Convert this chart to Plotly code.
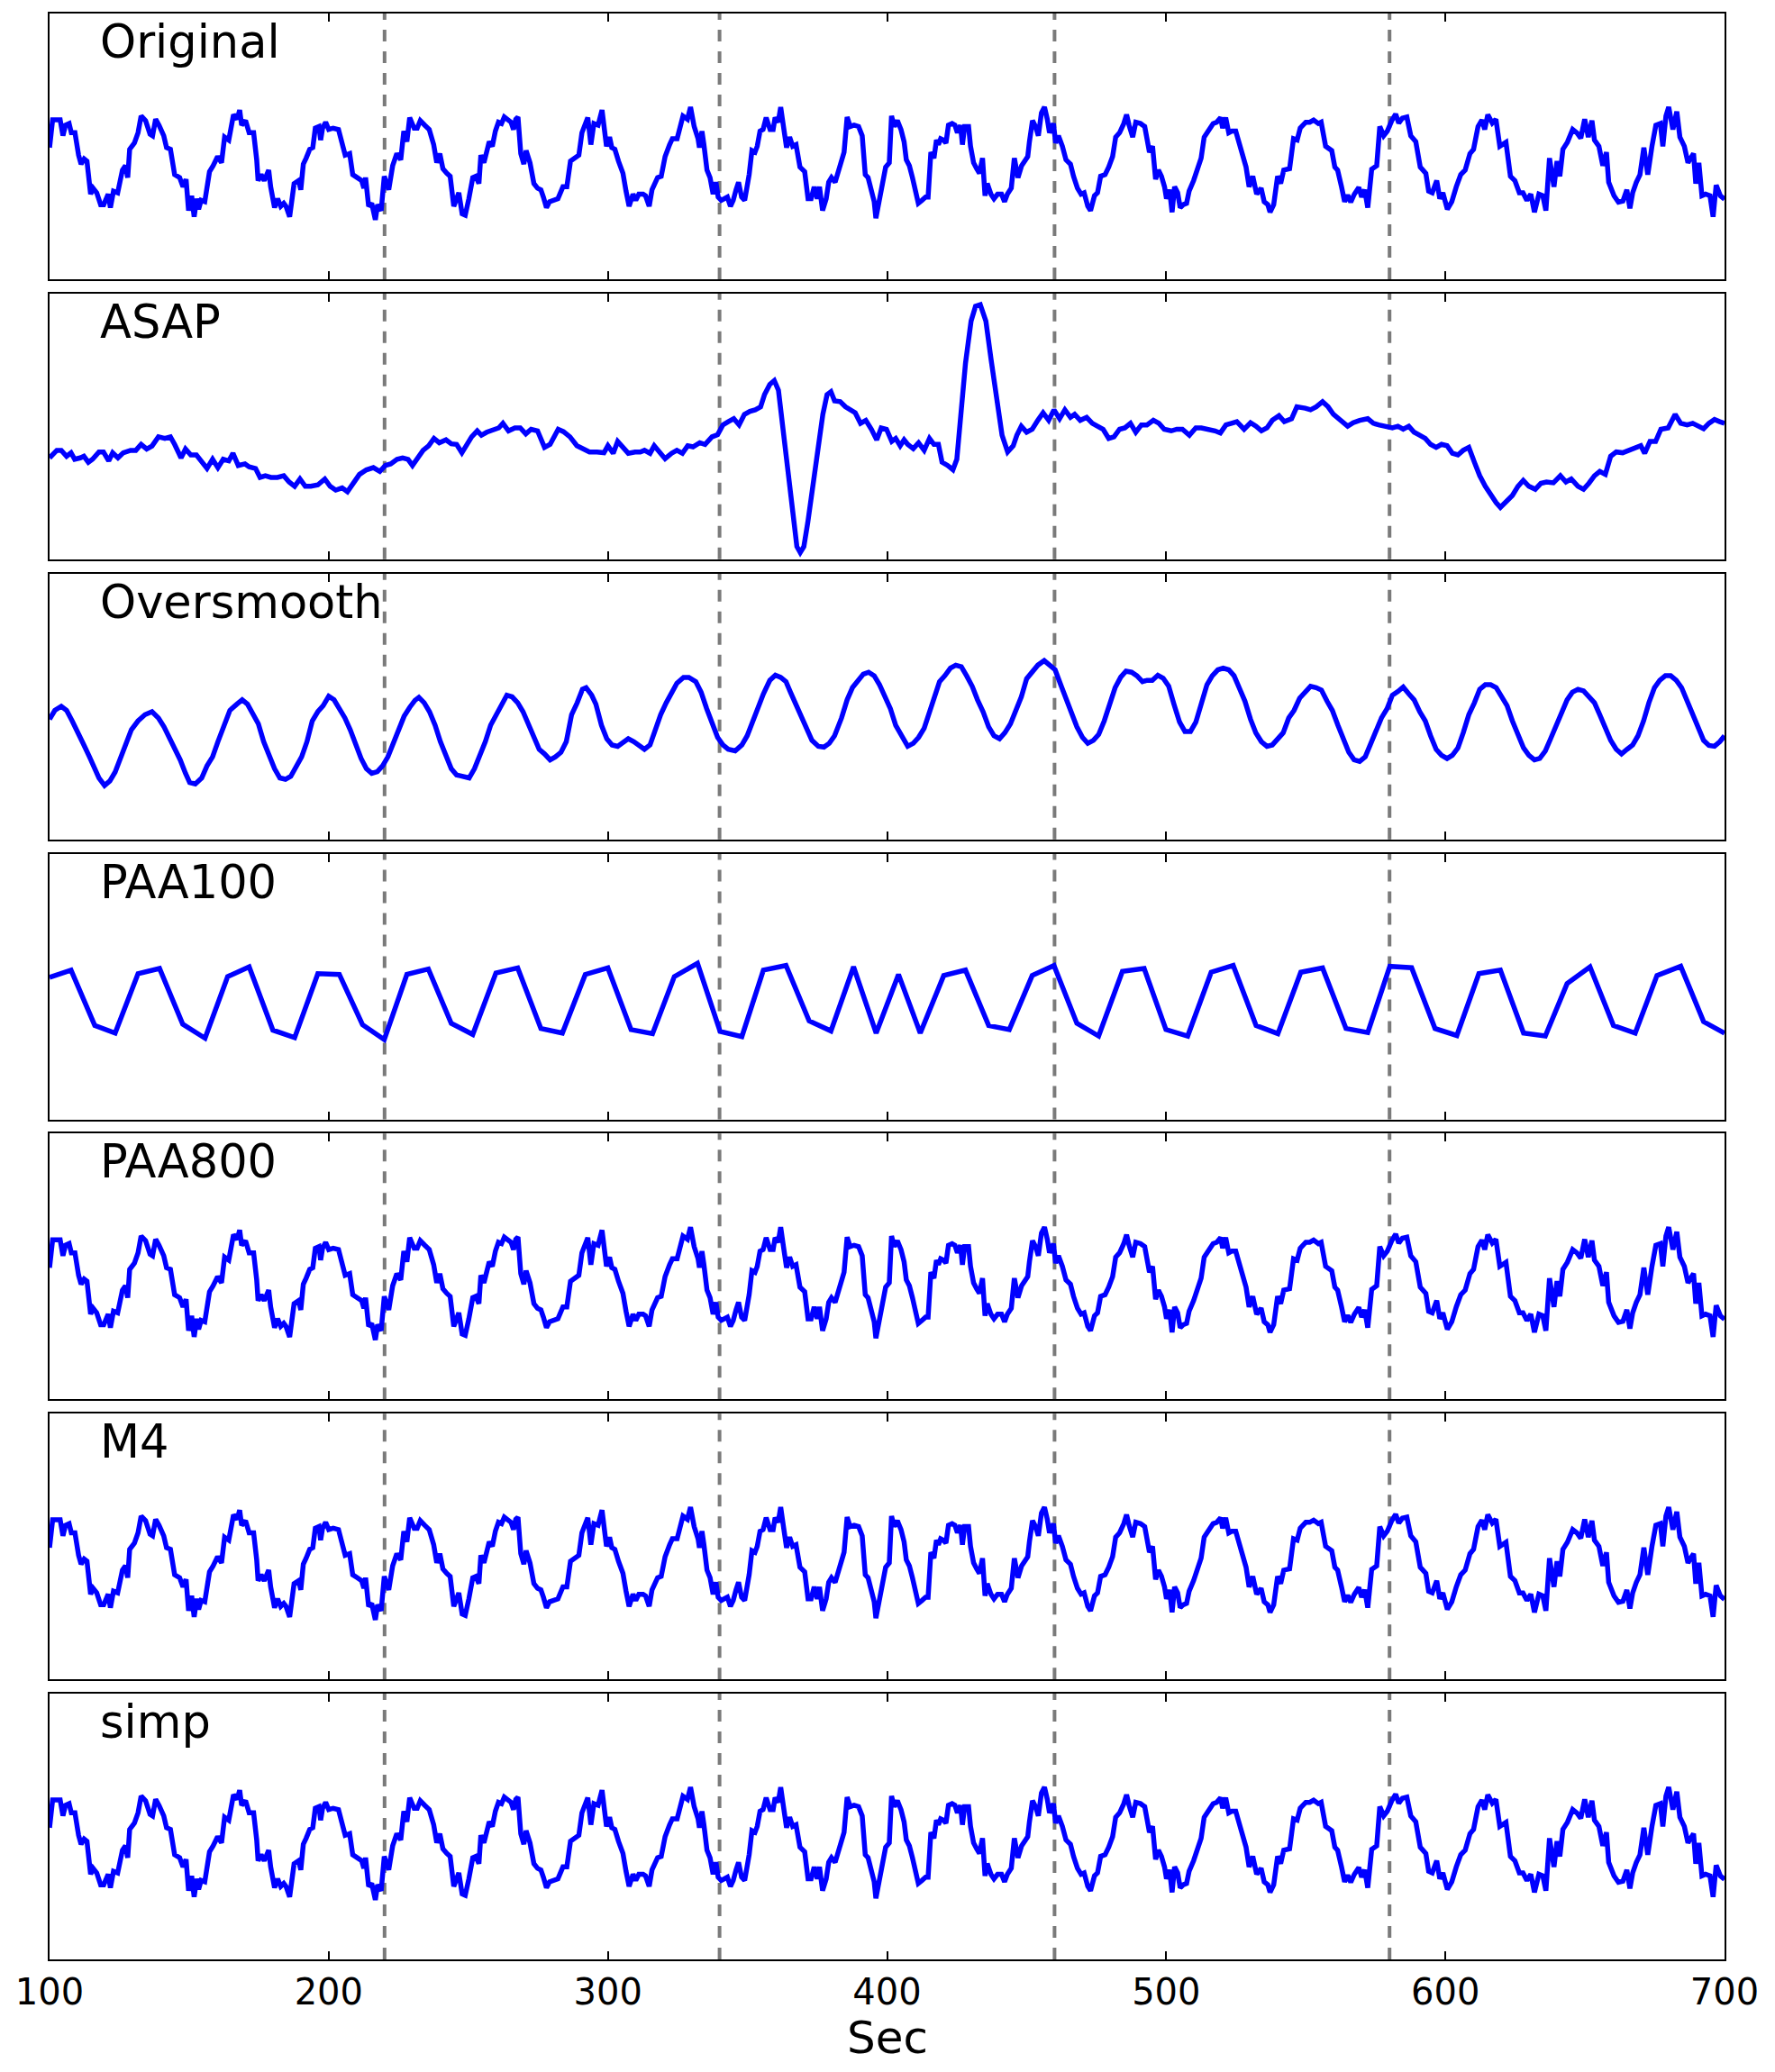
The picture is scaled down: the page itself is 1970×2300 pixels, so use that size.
import plotly.graph_objects as go

# ---------------- data (time in seconds, value in relative amplitude units) ----------------
original_t = [100.0, 101.1, 103.8, 104.8, 105.7, 107.0, 107.8, 109.1, 110.4, 111.3, 112.4, 113.4, 114.7, 115.6, 116.9,
              118.3, 119.4, 121.0, 121.8, 122.9, 124.4, 125.3, 126.1, 127.2, 128.0, 128.7, 130.4, 131.7, 132.8, 134.4,
              136.0, 136.9, 138.0, 139.2, 140.9, 141.9, 143.3, 144.8, 146.6, 147.8, 148.9, 149.8, 150.9, 151.8, 152.7,
              153.4, 154.3, 155.6, 157.3, 158.6, 160.2, 161.6, 162.7, 164.2, 165.1, 165.9, 167.2, 168.1, 168.8, 170.2,
              171.5, 173.1, 174.2, 174.7, 175.8, 176.9, 178.5, 179.2, 180.6, 181.7, 182.8, 183.9, 184.7, 186.0, 187.6,
              189.2, 190.0, 190.9, 191.9, 193.2, 194.3, 195.2, 196.5, 197.1, 197.8, 198.9, 200.0, 201.6, 203.5, 204.8,
              205.9, 207.5, 208.6, 210.2, 211.8, 212.6, 213.2, 214.3, 215.4, 216.7, 217.5, 218.8, 219.9, 221.5, 222.9,
              224.4, 225.8, 226.9, 228.0, 229.0, 230.6, 231.7, 232.8, 234.4, 236.0, 237.6, 238.7, 239.8, 240.9, 242.3,
              243.5, 244.8, 246.6, 247.8, 248.9, 250.2, 251.6, 252.7,
              253.8, 254.5, 255.6, 256.7, 257.5, 258.6, 259.7, 260.8, 261.9, 262.9, 264.2, 265.3, 266.2, 267.0, 267.8,
              268.8, 269.9, 270.7, 272.1, 273.5, 274.8, 276.0, 276.9, 278.0, 279.1, 280.7, 282.1, 283.9, 285.3, 286.6,
              288.2, 289.6, 290.7, 292.0, 292.8, 293.9, 295.0, 296.5, 297.9, 299.5, 300.6, 301.4, 302.5, 303.8, 305.4,
              306.5, 307.6, 309.0, 310.0, 311.1, 312.6, 313.5, 314.8, 315.8, 317.8, 319.1, 320.5, 322.1, 323.1, 324.8,
              325.8, 326.9, 328.5, 329.6, 330.9, 332.3, 332.8, 333.7, 334.4, 335.5, 336.6, 337.7, 338.7, 339.5, 340.6,
              342.0, 342.8, 343.9, 344.9, 345.9, 346.8, 347.9, 349.0, 350.6, 351.6, 352.7, 353.5, 354.5, 355.6, 356.7,
              358.1, 359.2, 359.9, 361.0, 361.9, 362.9, 364.0, 365.1, 366.2, 367.4, 368.8, 370.5, 371.7, 372.8, 373.9,
              375.0, 375.8, 376.9, 378.2, 379.1, 380.1, 381.4, 382.5, 383.6, 384.6, 385.7, 386.8, 388.2, 389.8, 391.1,
              392.2, 393.2, 394.3, 395.4, 396.0, 397.1, 398.4, 399.5, 400.8, 401.6,
              402.6, 403.7, 405.0, 406.1, 406.9, 408.0, 409.1, 410.4, 411.2, 412.5, 413.8, 414.7, 415.7, 416.8, 417.7,
              418.4, 419.2, 420.2, 421.1, 422.0, 423.3, 424.3, 425.2, 426.3, 427.0, 427.8, 429.2, 429.9, 431.0, 432.1,
              433.1, 434.2, 435.1, 435.9, 437.2, 438.3, 439.6, 441.0, 442.1, 443.1, 444.5, 445.6, 446.9, 448.2, 449.3,
              450.4, 451.0, 452.1, 453.2, 454.2, 455.3, 456.4, 457.4, 458.2, 459.6, 460.4, 461.4, 462.8, 464.1, 465.7,
              466.8, 468.2, 469.5, 470.6, 471.9, 472.9, 474.3, 475.4, 476.5, 478.1, 479.4, 480.8, 481.9, 483.3, 484.8,
              485.8, 486.7, 488.0, 489.1, 490.8, 492.3, 493.2, 494.0, 495.1, 496.2, 497.2, 498.3, 499.4, 500.1, 501.2,
              502.1, 503.0, 504.1, 505.0, 506.1, 507.3, 508.2, 509.8, 510.9, 512.5, 513.6, 515.2, 516.8, 518.1, 519.5,
              520.2, 521.3, 522.4, 523.5, 524.9, 526.3, 527.6, 528.6, 529.7, 531.0, 532.4, 534.0, 535.1, 536.4, 537.2,
              538.5, 539.9, 541.0, 542.1, 544.2, 545.6, 546.9, 548.0, 550.0,
              551.4, 552.8, 554.5, 555.5, 557.1, 559.3, 560.4, 561.4, 562.8, 563.9, 565.0, 566.1, 567.4, 569.0, 570.0,
              571.1, 572.2, 573.6, 575.4, 576.5, 577.9, 579.2, 580.8, 582.2, 583.3, 584.6, 586.2, 587.6, 589.4, 591.0,
              593.0, 594.0, 595.3, 596.9, 598.0, 599.1, 600.7, 602.3, 603.9, 605.5, 607.1, 608.8, 610.1, 611.7, 613.1,
              614.1, 615.2, 616.8, 618.1, 619.5, 621.7, 623.3, 624.9, 626.5, 627.8, 629.2, 630.6, 631.9, 633.5, 634.9,
              636.0, 637.3, 638.9, 640.0, 641.0, 642.1, 643.7, 645.6, 647.1, 648.5, 649.9, 651.2, 652.5, 653.4, 655.0,
              656.4, 657.7, 658.5, 660.4, 662.0, 663.6, 665.0, 666.1, 667.1, 668.4, 669.7, 671.1, 672.5, 674.0, 675.4,
              677.0, 677.9, 679.0, 680.0, 681.5, 682.9, 684.0, 685.6, 686.9, 688.9, 689.7, 690.8, 691.9, 693.2, 694.8,
              695.9, 697.0, 698.5, 700.0]
original_v = [48.7, 59.0, 59.0, 53.1, 57.0, 57.6, 54.2, 54.2, 45.9, 42.6, 44.5, 43.7, 31.5, 33.7, 32.0,
              27.6, 27.6, 31.5, 26.5, 32.6, 32.0, 36.5, 40.4, 42.0, 37.6, 48.1, 50.4, 54.2, 60.4, 58.7,
              53.7, 53.1, 59.2, 57.0, 53.1, 48.7, 48.1, 38.7, 37.6, 34.2, 37.0, 25.4, 30.9, 23.1, 29.8,
              25.9, 29.2, 28.7, 39.8, 42.0, 45.4, 43.1, 52.6, 51.5, 57.0, 60.9, 59.2, 62.6, 57.0, 58.7,
              54.2, 54.2, 44.2, 36.5, 38.7, 36.5, 40.4, 34.2, 26.5, 29.8, 27.0, 28.1, 27.0, 23.1, 35.4,
              36.5, 33.1, 42.6, 44.8, 48.1, 48.7, 55.9, 56.5, 51.5, 55.9, 58.1, 55.4, 55.9, 55.4, 49.2,
              45.9, 46.5, 38.7, 37.6, 36.5, 33.7, 37.6, 27.0, 28.1, 22.0, 27.6, 25.4, 38.1, 33.1, 42.0,
              46.5, 44.2, 54.8, 50.9, 59.8, 55.9, 55.9, 58.7, 57.0, 55.4, 49.8, 43.1, 46.5, 40.9, 39.2,
              38.1, 27.0, 32.0, 24.2, 23.7, 29.8, 37.6, 38.1,
              35.4, 45.9, 43.1, 47.6, 50.9, 49.2, 54.8, 58.1, 57.6, 60.0, 59.2, 58.1, 55.4, 59.2, 60.0,
              46.5, 42.6, 47.6, 43.1, 35.4, 33.7, 33.1, 30.4, 26.5, 28.7, 29.2, 29.8, 34.2, 34.2, 43.7,
              44.8, 45.9, 54.2, 58.1, 59.8, 49.8, 57.6, 57.0, 62.6, 49.2, 52.6, 48.7, 48.1, 43.7, 39.2,
              32.6, 27.0, 31.5, 29.2, 31.5, 31.5, 30.9, 27.0, 33.1, 37.6, 38.1, 45.4, 49.8, 52.0, 52.0,
              55.9, 60.4, 59.2, 63.7, 56.5, 52.0, 48.7, 54.8, 49.8, 40.4, 37.6, 31.5, 35.9, 30.4, 29.2,
              29.8, 30.4, 27.0, 29.2, 33.1, 35.9, 30.4, 29.2, 38.7, 47.6, 47.0, 49.2, 54.8, 55.4, 59.8,
              55.4, 55.4, 59.8, 58.1, 63.7, 56.5, 48.7, 52.6, 49.2, 49.8, 41.5, 39.8, 29.8, 29.8, 34.2,
              29.8, 34.2, 25.4, 29.8, 35.9, 37.6, 35.9, 39.8, 42.6, 47.0, 60.0, 56.5, 57.0, 56.5, 53.1,
              38.7, 37.6, 32.0, 28.7, 22.6, 29.2, 35.9, 41.5, 43.1, 60.4,
              56.5, 58.7, 55.4, 50.9, 44.2, 42.0, 37.6, 32.6, 28.1, 29.2, 30.4, 30.4, 47.0, 44.8, 51.5,
              49.8, 52.0, 51.5, 50.4, 57.0, 57.6, 57.0, 54.2, 57.0, 49.8, 56.5, 56.5, 49.2, 43.1, 40.9,
              39.2, 44.8, 30.9, 35.4, 31.5, 29.8, 31.5, 31.5, 28.7, 31.5, 33.7, 44.8, 37.6, 42.0, 44.2,
              45.4, 50.9, 58.7, 56.5, 53.1, 61.5, 63.7, 59.2, 54.2, 57.6, 50.4, 53.1, 49.2, 44.2, 42.6,
              38.1, 33.7, 31.5, 32.0, 27.0, 25.4, 30.9, 32.0, 38.1, 38.7, 41.5, 45.4, 52.6, 54.2, 57.6,
              60.9, 57.0, 52.6, 58.1, 57.6, 56.5, 51.5, 47.0, 49.2, 37.0, 40.4, 38.1, 34.2, 29.8, 33.1,
              24.8, 34.2, 32.0, 26.5, 27.6, 28.1, 32.6, 36.5, 40.4, 44.8, 52.6, 55.4, 57.6, 58.1, 59.8,
              55.9, 59.8, 54.2, 54.8, 54.8, 49.8, 45.9, 41.5, 34.2, 38.1, 31.5, 33.7, 28.7, 27.6, 24.8,
              27.6, 38.1, 35.4, 40.4, 40.9, 52.0, 51.5, 55.9, 58.1,
              58.1, 58.9, 57.6, 58.1, 49.2, 47.6, 41.5, 40.4, 34.2, 28.7, 31.1, 28.5, 31.5, 34.0, 30.4,
              33.1, 26.5, 40.7, 42.0, 56.5, 53.1, 54.8, 58.7, 61.1, 57.8, 59.6, 60.0, 53.1, 50.9, 41.5,
              39.2, 32.6, 32.0, 36.5, 29.8, 32.0, 25.9, 28.7, 34.2, 38.7, 40.4, 46.5, 48.1, 56.5, 58.9,
              55.4, 60.9, 57.8, 59.2, 49.2, 50.7, 38.1, 36.5, 32.0, 32.0, 29.2, 31.5, 24.8, 31.5, 30.9,
              25.4, 44.8, 34.2, 43.7, 38.1, 48.1, 50.7, 55.4, 54.2, 52.2, 59.2, 52.6, 58.7, 51.5, 49.2,
              42.0, 47.0, 35.9, 30.9, 28.5, 28.9, 33.1, 26.2, 32.0, 35.9, 38.7, 48.7, 38.7, 49.2, 57.0,
              57.6, 49.2, 60.4, 63.7, 55.4, 62.0, 52.6, 49.2, 43.1, 46.5, 35.4, 43.1, 30.9, 31.5, 30.9,
              23.1, 34.8, 30.9, 29.6]

asap_t = [100.0, 102.6, 104.2, 106.1, 107.7, 109.0, 111.0, 112.3, 113.9, 115.4, 117.7, 119.3, 121.2, 122.6, 124.5,
          126.4, 129.0, 130.9, 132.8, 134.8, 136.7, 139.0, 141.3, 143.3, 144.8, 147.1, 148.7, 150.6, 152.6, 154.5,
          156.4, 158.4, 160.3, 162.2, 164.2, 165.7, 167.6, 170.0, 171.5, 173.8, 175.4, 177.3, 179.3, 181.6, 183.9,
          185.8, 187.8, 189.7, 191.6, 193.6, 196.1, 198.6, 200.5, 202.5, 204.8, 206.7, 208.7, 211.0, 213.5, 216.0,
          218.3, 220.3, 222.2, 224.5, 226.5, 228.4, 230.0, 231.9, 233.8, 235.8, 237.7, 239.6, 242.0, 243.9, 245.8,
          247.7, 249.3, 251.2, 253.2, 254.7, 256.6, 259.0, 260.9, 262.4, 264.4, 266.7, 268.6, 270.6, 272.5, 274.8,
          277.3, 279.3, 282.2, 284.1, 286.4, 288.9, 290.9, 293.4, 296.1, 298.6, 300.0, 301.9, 303.5, 305.8, 307.3,
          309.7, 311.6, 313.1, 315.1, 316.6, 318.6, 320.5, 322.8, 324.7, 326.7, 328.6, 330.5, 332.9, 334.8, 337.3,
          339.3, 341.2, 343.1, 345.1, 347.0, 348.9, 350.9, 352.8, 354.7, 356.1, 358.0, 359.6, 361.1, 362.5, 364.4,
          366.3, 367.7, 368.9, 370.2, 371.6, 373.1, 375.0, 377.0, 378.5, 379.9, 381.2, 383.2, 385.1, 387.0, 388.6,
          390.5, 392.4, 394.4, 396.3, 397.9, 399.8, 401.7,
          403.1, 404.7, 406.1, 407.4, 409.4, 411.3, 413.3, 415.2, 416.8, 418.4, 419.7, 421.7, 423.6, 425.0, 426.6,
          428.1, 430.1, 431.7, 433.4, 435.4, 437.3, 439.3, 441.2, 443.2, 445.2, 446.5, 448.1, 450.0, 452.0, 454.0,
          455.9, 457.9, 459.8, 461.8, 463.7, 465.7, 467.2, 469.2, 471.5, 473.5, 475.5, 477.4, 479.4, 481.3, 483.3,
          485.2, 487.2, 489.1, 491.1, 493.1, 495.4, 497.4, 499.3, 501.8, 503.8, 505.8, 508.3, 510.6, 512.6, 515.0,
          517.5, 519.4, 521.4, 523.4, 525.3, 527.9, 530.2, 532.2, 534.1, 536.1, 538.0, 540.4, 542.3, 544.9, 546.8,
          549.8, 551.7, 553.7, 556.0, 558.0, 559.9, 562.5, 565.0, 567.0, 569.3, 572.2, 574.2, 576.1, 579.1, 581.0,
          583.0, 584.9, 586.9, 588.8, 590.8, 592.8, 594.7, 596.7, 598.6, 600.6, 602.5, 604.5, 606.4, 608.4, 610.4,
          612.3, 614.3, 616.2, 618.2, 619.7, 622.1, 624.0, 626.0, 627.9, 629.9, 632.2, 634.2, 636.2, 638.7, 641.2,
          643.2, 645.1, 647.5, 649.5, 651.4, 653.4, 655.3, 657.3, 659.2, 661.2, 663.5, 666.1, 668.0, 670.0, 671.4,
          673.3, 675.3, 677.2, 679.8, 682.3, 684.3, 686.6, 688.6, 690.5, 692.5, 694.4, 696.4, 698.3, 700.0]
asap_v = [37.5, 40.3, 40.3, 38.1, 39.4, 37.0, 37.5, 38.1, 35.9, 37.0, 39.7, 39.7, 36.4, 39.4, 37.5,
          39.4, 40.3, 40.3, 42.5, 40.8, 41.9, 45.3, 44.7, 45.3, 42.5, 37.5, 40.8, 38.6, 38.6, 36.4,
          33.6, 37.0, 33.9, 37.0, 36.4, 39.2, 34.7, 35.3, 34.2, 33.6, 30.3, 30.9, 30.3, 30.3, 30.9,
          28.6, 27.0, 29.7, 27.0, 27.0, 27.5, 29.7, 27.0, 25.6, 26.4, 25.0, 28.1, 31.4, 33.1, 33.9,
          32.5, 34.7, 35.3, 37.0, 37.5, 37.0, 34.7, 37.5, 40.3, 42.0, 44.7, 43.1, 44.2, 42.7, 42.5,
          39.4, 42.5, 45.3, 47.5, 45.9, 47.0, 48.1, 48.6, 50.3, 47.5, 48.6, 48.6, 46.4, 48.1, 47.5,
          41.4, 42.5, 48.1, 47.2, 45.3, 42.0, 40.8, 39.7, 39.7, 39.4, 42.0, 39.2, 43.6, 40.8, 39.2,
          39.7, 39.7, 40.3, 39.2, 42.0, 39.4, 37.2, 39.2, 40.3, 39.2, 42.0, 41.6, 43.1, 42.5, 45.3,
          46.1, 49.7, 50.9, 52.0, 49.7, 53.6, 54.7, 55.3, 56.4, 60.9, 64.7, 66.1, 62.5, 51.4, 33.6,
          17.0, 4.7, 2.5, 4.7, 13.6, 24.7, 40.3, 53.6, 60.9, 62.0, 58.6, 58.3, 56.4, 55.3, 54.2,
          50.3, 51.4, 48.1, 44.2, 48.6, 48.1, 43.6,
          44.7, 42.0, 44.2, 42.5, 40.9, 43.1, 40.3, 44.7, 42.5, 42.5, 35.9, 34.7, 33.1, 37.0, 55.9,
          72.5, 88.1, 93.6, 94.2, 88.1, 73.6, 58.1, 45.9, 39.7, 42.0, 45.9, 49.2, 47.0, 48.1, 51.4,
          54.2, 51.4, 55.3, 52.0, 55.3, 52.5, 53.6, 51.4, 52.5, 50.3, 49.2, 48.1, 44.7, 45.3, 48.1,
          48.6, 50.3, 47.0, 49.7, 49.7, 51.4, 50.3, 48.1, 47.5, 48.1, 48.1, 45.9, 48.6, 48.6, 48.1,
          47.5, 46.7, 49.7, 50.3, 50.9, 48.1, 50.5, 49.2, 47.5, 48.6, 51.4, 53.1, 50.9, 52.0, 56.4,
          55.9, 55.3, 56.4, 58.3, 56.4, 53.6, 51.4, 49.2, 50.5, 51.4, 52.0, 50.3, 49.7, 49.2, 48.6,
          49.2, 48.1, 49.2, 47.0, 45.9, 44.7, 42.5, 41.4, 42.5, 42.0, 39.2, 38.6, 40.3, 41.4, 35.9,
          30.9, 27.0, 23.6, 20.9, 19.2, 22.0, 23.6, 27.0, 29.2, 27.0, 25.9, 28.1, 28.6, 28.3, 30.9,
          28.6, 29.7, 27.0, 25.9, 28.1, 30.9, 32.5, 31.4, 38.1, 39.7, 39.4, 40.3, 40.9, 42.0, 39.2,
          43.6, 43.6, 48.1, 48.6, 53.6, 50.3, 49.7, 50.3, 49.2, 48.3, 50.3, 51.7, 50.9, 50.3]

oversmooth_t = [100.0, 101.9, 104.2, 106.1, 108.1, 110.4, 112.3, 114.3, 116.2, 117.7, 119.7, 121.6, 123.5, 125.5, 127.4,
                129.3, 131.7, 134.2, 136.7, 139.0, 141.0, 142.9, 144.8, 146.8, 148.7, 150.2, 152.2, 154.5, 156.4, 158.4,
                160.3, 162.2, 164.6, 167.1, 169.0, 170.9, 172.9, 174.8, 176.7, 178.7, 180.6, 182.5, 184.5, 186.4, 188.4,
                190.3, 192.2, 194.1, 196.1, 198.0, 200.0, 201.9, 203.8, 205.8, 207.7, 209.6, 211.6, 213.5, 215.4, 217.4,
                219.3, 221.2, 223.2, 225.1, 227.0, 229.0, 230.9, 232.3, 234.2, 236.1, 238.1, 240.0, 242.0, 243.9, 245.8,
                248.3, 250.3, 252.2, 254.1, 256.1, 258.0, 259.9, 261.9, 263.8, 265.7, 267.7, 269.6, 271.5, 273.5, 275.4,
                277.3, 279.3, 281.2, 283.2, 285.1, 287.0, 289.0, 290.9, 292.2, 294.2, 295.7, 297.7, 299.6, 301.5, 303.5,
                305.4, 307.3, 309.3, 311.2, 313.1, 315.1, 317.0, 318.9, 320.9, 322.8, 324.7, 327.1, 329.0, 331.5, 333.4,
                335.4, 337.3, 339.3, 341.2, 343.1, 345.6, 348.0, 349.9, 351.8, 353.8, 355.7, 358.0, 360.0, 361.9, 363.8,
                365.4, 367.3, 369.2, 371.2, 373.1, 375.4, 377.4, 379.3, 381.2, 383.7, 385.7, 387.6, 389.5, 391.5, 393.4,
                395.4, 397.3, 399.2, 401.2,
                403.1, 405.1, 407.4, 409.4, 411.3, 413.3, 414.9, 416.8, 418.8, 420.7, 422.7, 424.6, 426.6, 428.5, 430.5,
                432.4, 434.4, 436.4, 438.3, 440.3, 442.2, 444.2, 446.1, 448.1, 450.0, 452.0, 454.0, 456.3, 458.3, 460.2,
                462.2, 464.1, 466.1, 468.0, 470.0, 471.9, 473.9, 475.8, 477.8, 479.8, 481.7, 483.7, 485.6, 487.6, 489.5,
                491.5, 493.1, 495.0, 497.0, 498.9, 500.9, 502.8, 504.8, 506.7, 508.7, 510.6, 512.6, 514.6, 516.5, 518.5,
                520.4, 522.4, 524.3, 526.3, 528.2, 530.2, 532.1, 534.1, 536.1, 538.0, 540.0, 541.9, 543.9, 545.8, 547.8,
                549.7, 551.7, 553.7, 555.6, 557.6, 559.5, 561.5, 563.4, 565.4, 567.3, 569.3, 571.3, 573.2, 575.2, 577.1,
                579.1, 581.0, 583.0, 584.9, 586.9, 588.8, 590.8, 592.8, 594.7, 596.7, 598.6, 600.6, 602.5, 604.5, 606.4,
                608.4, 610.4, 612.3, 614.3, 616.2, 618.2, 620.1, 622.1, 624.0, 626.0, 628.0, 629.9, 631.9, 633.8, 635.8,
                637.7, 639.7, 641.6, 643.6, 645.5, 647.5, 649.5, 651.4, 653.4, 655.3, 657.3, 659.2, 661.2, 663.1, 665.1,
                667.1, 669.0, 671.0, 672.9, 674.9, 676.8, 678.8, 680.7, 682.7, 684.6, 686.6, 688.6, 690.5, 692.5, 694.4,
                696.4, 698.3, 700.0]
oversmooth_v = [44.4, 47.7, 49.2, 47.7, 43.8, 39.4, 34.9, 30.5, 26.1, 22.7, 19.9, 21.6, 24.9, 29.9, 34.9,
                40.5, 43.8, 46.1, 47.2, 44.9, 41.6, 37.7, 33.8, 29.4, 24.4, 21.0, 20.5, 22.7, 27.2, 30.5,
                36.1, 41.6, 47.7, 50.0, 51.6, 50.0, 46.6, 42.7, 36.1, 30.5, 26.1, 22.7, 22.2, 23.3, 26.6,
                30.5, 36.1, 43.8, 47.2, 49.4, 52.9, 51.6, 48.3, 44.9, 40.5, 34.9, 29.9, 26.1, 24.4, 25.0,
                27.2, 30.5, 35.5, 40.5, 45.5, 48.8, 51.4, 52.5, 50.5, 47.2, 42.2, 36.1, 30.5, 26.1, 23.8,
                23.3, 22.7, 26.1, 30.5, 36.1, 42.2, 46.1, 49.4, 53.3, 52.7, 50.5, 47.2, 42.7, 37.7, 33.3,
                31.6, 29.4, 30.5, 32.2, 36.1, 46.1, 50.5, 55.5, 56.1, 53.3, 50.0, 42.2, 37.2, 34.9, 34.4,
                36.1, 37.2, 36.1, 34.9, 33.3, 34.9, 40.5, 46.1, 50.5, 53.8, 57.7, 59.9, 59.9, 58.3, 54.4,
                48.3, 42.7, 37.7, 34.9, 33.3, 32.7, 34.9, 38.3, 43.8, 49.4, 53.8, 58.8, 60.7, 59.9, 58.3,
                54.4, 49.9, 45.5, 41.6, 36.6, 34.4, 34.1, 35.5, 38.3, 44.9, 51.6, 56.1, 58.8, 61.1, 61.8,
                60.5, 57.2, 53.3, 48.3,
                42.2, 38.3, 34.4, 35.5, 37.7, 41.1, 46.1, 52.7, 58.3, 60.5, 63.3, 64.4, 63.8, 60.5, 56.6,
                51.6, 47.2, 41.6, 38.3, 37.2, 39.4, 42.7, 47.2, 52.7, 59.4, 62.2, 64.4, 66.1, 64.4, 62.7,
                57.2, 52.2, 47.2, 41.6, 37.7, 35.5, 36.6, 38.8, 43.8, 50.5, 56.1, 60.0, 62.2, 61.8, 60.5,
                58.3, 58.8, 58.8, 60.7, 59.6, 56.6, 49.9, 43.3, 39.9, 39.9, 43.3, 50.5, 57.2, 60.5, 62.7,
                63.3, 62.7, 60.5, 56.1, 51.1, 44.4, 39.4, 36.1, 34.4, 34.9, 37.2, 39.4, 44.9, 47.7, 52.2,
                54.4, 56.6, 56.1, 55.2, 51.1, 47.7, 42.2, 37.2, 32.2, 29.4, 28.8, 30.5, 34.9, 40.5, 44.9,
                48.3, 53.3, 54.7, 56.3, 53.8, 51.6, 47.2, 43.8, 38.3, 33.3, 31.1, 29.9, 31.1, 33.8, 39.4,
                46.1, 50.5, 55.5, 57.2, 57.2, 56.1, 52.7, 49.4, 43.8, 38.3, 33.8, 31.1, 29.4, 29.9, 32.7,
                37.2, 42.2, 47.2, 51.6, 54.4, 55.5, 54.9, 52.7, 50.5, 46.1, 41.1, 36.6, 33.3, 31.6, 33.3,
                34.9, 38.3, 43.8, 50.5, 56.1, 58.8, 60.5, 60.5, 58.8, 56.1, 51.1, 46.1, 41.1, 36.6, 34.7,
                34.4, 36.1, 38.3]

paa100_t = [100.0, 107.7, 116.2, 123.5, 131.7, 139.4, 147.7, 155.7, 163.8, 171.5, 180.0, 187.8, 196.1, 203.8, 212.1,
            219.9, 228.0, 235.7, 243.9, 251.6, 259.9, 267.7, 276.0, 283.7, 291.9, 300.0, 308.3, 316.0, 323.8, 332.1,
            340.2, 348.0, 355.7, 363.8, 372.1, 379.9, 388.0, 396.1, 404.1, 411.9, 420.3, 428.1, 436.4, 443.8, 452.0,
            459.8, 468.0, 475.8, 484.3, 492.1, 499.9, 507.7, 516.1, 524.0, 532.2, 540.0, 548.2, 556.0, 564.4, 572.2,
            580.1, 587.9, 596.3, 604.1, 612.0, 619.7, 628.0, 635.8, 643.6, 651.8, 660.2, 668.0, 675.8, 684.3, 692.5,
            700.0]
paa100_v = [52.5, 55.2, 34.7, 31.9, 53.9, 55.8, 35.2, 30.0, 52.8, 56.4, 33.0, 30.2, 53.9, 53.6, 35.0,
            29.5, 53.6, 55.6, 35.5, 31.4, 54.1, 56.0, 33.6, 31.9, 53.6, 56.0, 33.2, 31.7, 52.8, 57.7,
            32.5, 30.6, 55.2, 56.9, 36.4, 32.7, 56.4, 31.9, 53.6, 31.9, 53.2, 55.2, 34.7, 33.2, 53.2,
            56.9, 35.5, 30.8, 54.7, 55.8, 33.2, 30.8, 54.4, 56.9, 34.7, 31.7, 54.4, 56.0, 33.6, 32.1,
            56.6, 56.1, 33.6, 31.0, 53.9, 55.2, 31.9, 30.8, 50.2, 56.4, 34.7, 31.9, 53.2, 56.6, 36.1,
            31.9]

# PAA800, M4 and simp are visually indistinguishable from the original series at this scale
paa800_t, paa800_v = original_t, original_v
m4_t, m4_v = original_t, original_v
simp_t, simp_v = original_t, original_v

panel_names = ["Original", "ASAP", "Oversmooth", "PAA100", "PAA800", "M4", "simp"]
panel_series = [(original_t, original_v), (asap_t, asap_v), (oversmooth_t, oversmooth_v),
                (paa100_t, paa100_v), (paa800_t, paa800_v), (m4_t, m4_v), (simp_t, simp_v)]
marker_secs = [220, 340, 460, 580]
x_ticks = [100, 200, 300, 400, 500, 600, 700]
x_range = [100, 700]
y_range = [0, 98.3]
x_label = "Sec"

# ---------------- layout geometry ----------------
W, H = 1970, 2300
m_l, m_r, m_t, m_b = 55, 56, 15, 125
plot_h = H - m_t - m_b
panel_px = 295.0
step_px = (plot_h - panel_px) / 6.0

fig = go.Figure()
FONT = "DejaVu Sans, Verdana, sans-serif"
n = len(panel_names)
for i, (name, (tx, vy)) in enumerate(zip(panel_names, panel_series)):
    k = i + 1
    sfx = "" if k == 1 else str(k)
    top = 1 - (i * step_px) / plot_h
    bot = top - panel_px / plot_h
    fig.add_trace(go.Scatter(x=tx, y=vy, mode="lines",
                             line=dict(color="#0000ff", width=5.5),
                             xaxis="x" + sfx, yaxis="y" + sfx, showlegend=False,
                             hoverinfo="skip"))
    fig.layout["xaxis" + sfx] = dict(
        domain=[0, 1], anchor="y" + sfx, range=x_range, tickvals=x_ticks,
        ticks="inside", ticklen=9, tickwidth=1.5, tickcolor="black",
        showline=True, linecolor="black", linewidth=2, mirror="ticks",
        showgrid=False, zeroline=False,
        showticklabels=(k == n),
        tickfont=dict(family=FONT, size=40, color="black"),
        **({"matches": "x"} if k > 1 else {}),
    )
    fig.layout["yaxis" + sfx] = dict(
        domain=[bot, top], anchor="x" + sfx, range=y_range,
        showticklabels=False, ticks="", showgrid=False, zeroline=False,
        showline=True, linecolor="black", linewidth=2, mirror=True,
    )
    for s in marker_secs:
        fig.add_shape(type="line", x0=s, x1=s, y0=0, y1=1,
                      xref="x" + sfx, yref="y" + sfx + " domain",
                      line=dict(color="#7a7a7a", width=4, dash="13px,11px"),
                      layer="below")
    fig.add_annotation(text=name, x=117.5, y=1 - 31.5 / panel_px,
                       xref="x" + sfx, yref="y" + sfx + " domain",
                       xanchor="left", yanchor="middle", showarrow=False,
                       font=dict(family=FONT, size=51, color="black"))

# x-axis title placed as centred text below the bottom panel
fig.add_annotation(text=x_label, x=0.5, y=-(2262 - (H - m_b)) / plot_h,
                   xref="paper", yref="paper", xanchor="center", yanchor="middle",
                   showarrow=False, font=dict(family=FONT, size=50, color="black"))

fig.update_layout(width=W, height=H, margin=dict(l=m_l, r=m_r, t=m_t, b=m_b, autoexpand=False),
                  paper_bgcolor="white", plot_bgcolor="white", showlegend=False)

fig.write_html("out.html")
